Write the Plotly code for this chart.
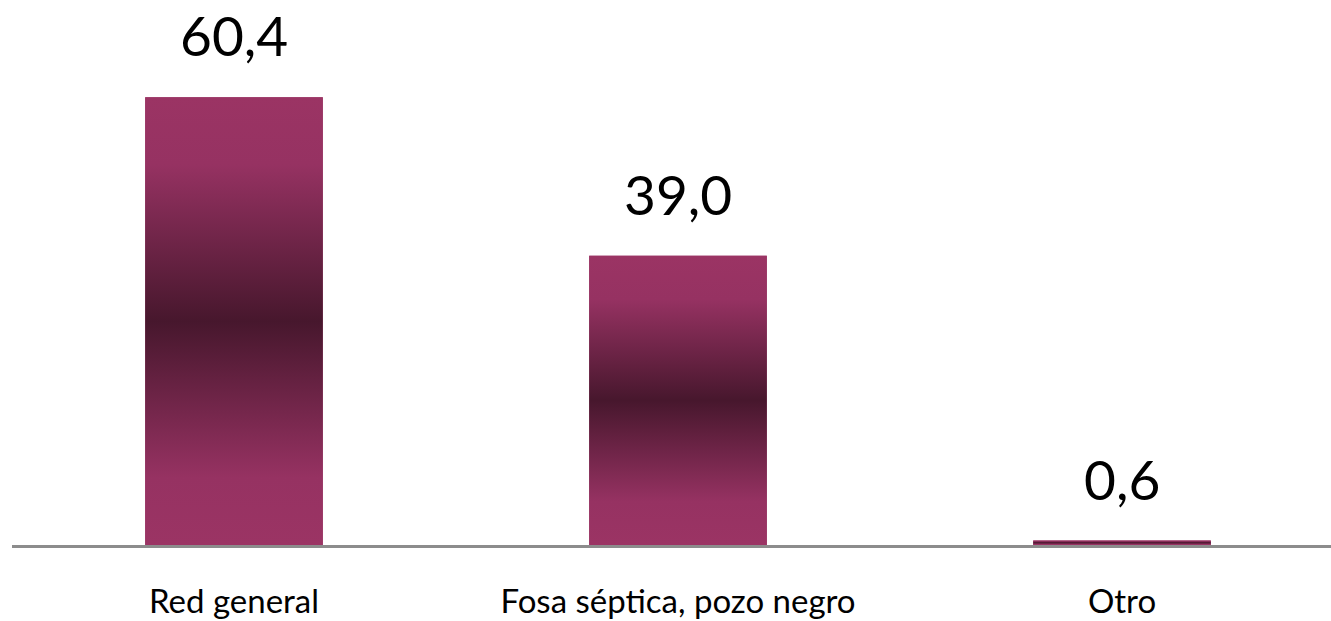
import plotly.graph_objects as go

categories = ["Red general", "Fosa séptica, pozo negro", "Otro"]
values = [60.4, 39.0, 0.6]
value_labels = ["60,4", "39,0", "0,6"]

BAR_W = 0.4
PINK = "#9a3363"
grad = [[0.0, "#9b3464"], [0.15, "#963262"], [0.5, "#47172d"], [0.85, "#963262"], [1.0, "#9b3464"]]

fig = go.Figure()
xs = list(range(len(categories)))

fig.add_trace(go.Bar(x=xs, y=values, width=BAR_W, marker=dict(color=PINK, line=dict(width=0)),
                     showlegend=False, hoverinfo="skip"))

for i, v in zip(xs, values):
    fig.add_trace(go.Scatter(
        x=[i - BAR_W / 2, i + BAR_W / 2, i + BAR_W / 2, i - BAR_W / 2, i - BAR_W / 2],
        y=[0, 0, v, v, 0],
        mode="lines", line=dict(width=0), fill="toself",
        fillgradient=dict(type="vertical", colorscale=grad),
        showlegend=False, hoverinfo="skip"))

for i, v, t in zip(xs, values, value_labels):
    fig.add_annotation(x=i, y=v, text=t, showarrow=False, yanchor="bottom", yshift=27,
                       font=dict(family="Lato", size=55, color="#000000"))

fig.update_layout(
    width=1331, height=621,
    margin=dict(l=12, r=0, t=26, b=76),
    paper_bgcolor="white", plot_bgcolor="white",
    font=dict(family="Lato", color="#000000"),
    xaxis=dict(range=[-0.5, 2.4707], tickvals=xs, ticktext=categories, showgrid=False,
               zeroline=False, showline=True, linecolor="#8c8c8c", linewidth=2.5,
               ticks="", tickfont=dict(family="Lato", size=33, color="#000000"),
               ticklabelstandoff=26),
    yaxis=dict(range=[0, 70], visible=False, showgrid=False, zeroline=False),
)

fig.write_html("out.html", config={"displayModeBar": False},
               post_script="document.body.style.margin='0';")
